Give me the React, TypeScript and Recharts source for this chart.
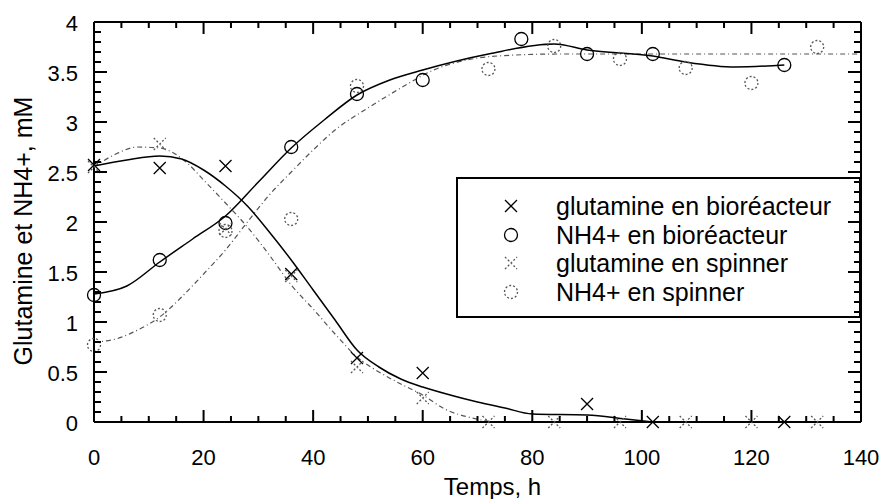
import { ComposedChart, Legend, Line, Scatter, XAxis, YAxis } from "recharts";

const FONT = "'Liberation Sans', Arial, Helvetica, sans-serif";
const INK = "#000";
const SPIN = "#555";

const glnBioHours = [0, 12, 24, 36, 48, 60, 90, 102, 126];
const glnBioConc = [2.57, 2.54, 2.56, 1.48, 0.64, 0.49, 0.18, 0, 0];

const nhBioHours = [0, 12, 24, 36, 48, 60, 78, 90, 102, 126];
const nhBioConc = [1.27, 1.62, 1.99, 2.75, 3.28, 3.42, 3.83, 3.68, 3.68, 3.57];

const glnSpinHours = [0, 12, 24, 36, 48, 60, 72, 84, 96, 108, 120, 132];
const glnSpinConc = [2.55, 2.78, 1.93, 1.46, 0.55, 0.24, 0, 0, 0, 0, 0, 0];

const nhSpinHours = [0, 12, 24, 36, 48, 72, 84, 96, 108, 120, 132];
const nhSpinConc = [0.77, 1.07, 1.91, 2.03, 3.36, 3.53, 3.76, 3.63, 3.54, 3.39, 3.75];

// fitted curves, sampled off the figure
const glnBioFitHours = [0, 6, 12, 16, 20, 24, 28, 32, 36, 40, 44, 48, 52, 56, 60, 65, 70, 75, 80, 90, 97, 102];
const glnBioFitConc = [2.56, 2.62, 2.66, 2.63, 2.52, 2.36, 2.16, 1.9, 1.62, 1.32, 1.02, 0.72, 0.55, 0.43, 0.35, 0.27, 0.2, 0.14, 0.08, 0.07, 0.03, 0];

const nhBioFitHours = [0, 6, 12, 18, 24, 30, 36, 42, 48, 54, 60, 72, 84, 90, 102, 108, 117, 126];
const nhBioFitConc = [1.28, 1.36, 1.6, 1.83, 2.06, 2.4, 2.74, 3.02, 3.27, 3.42, 3.52, 3.68, 3.78, 3.72, 3.66, 3.6, 3.55, 3.57];

const glnSpinFitHours = [0, 4, 8, 12, 17, 20, 24, 28, 32, 36, 40, 44, 48, 52, 56, 60, 64, 69, 73];
const glnSpinFitConc = [2.55, 2.68, 2.75, 2.74, 2.59, 2.42, 2.19, 1.95, 1.67, 1.37, 1.13, 0.88, 0.65, 0.5, 0.38, 0.27, 0.13, 0.04, 0];

const nhSpinFitHours = [0, 4, 8, 12, 16, 20, 24, 28, 32, 36, 40, 44, 50, 56, 62, 69, 77, 85, 100, 120, 140];
const nhSpinFitConc = [0.8, 0.83, 0.92, 1.05, 1.25, 1.48, 1.72, 2.0, 2.27, 2.5, 2.72, 2.92, 3.14, 3.34, 3.52, 3.63, 3.67, 3.68, 3.68, 3.68, 3.68];

const xLabels = [0, 20, 40, 60, 80, 100, 120, 140];
const yLabels = [0, 0.5, 1, 1.5, 2, 2.5, 3, 3.5, 4];
const xTicks = Array.from({ length: 29 }, (_, i) => i * 5);
const yTicks = Array.from({ length: 41 }, (_, i) => i / 10);

const pts = (xs: number[], ys: number[]) => xs.map((x, i) => ({ x, y: ys[i] }));

const MARKERS: Record<string, { kind: "x" | "o"; dashed: boolean }> = {
  "glutamine en bioréacteur": { kind: "x", dashed: false },
  "NH4+ en bioréacteur": { kind: "o", dashed: false },
  "glutamine en spinner": { kind: "x", dashed: true },
  "NH4+ en spinner": { kind: "o", dashed: true },
};
const legendOrder = Object.keys(MARKERS);

function Marker({ cx, cy, kind, dashed }: { cx: number; cy: number; kind: "x" | "o"; dashed: boolean }) {
  const stroke = dashed ? SPIN : INK;
  const dash = dashed ? "2 2" : undefined;
  if (kind === "o") {
    return <circle cx={cx} cy={cy} r={6.5} fill="none" stroke={stroke} strokeWidth={1.3} strokeDasharray={dash} />;
  }
  const s = 6;
  return (
    <path
      d={`M${cx - s},${cy - s}L${cx + s},${cy + s}M${cx - s},${cy + s}L${cx + s},${cy - s}`}
      fill="none"
      stroke={stroke}
      strokeWidth={1.3}
      strokeDasharray={dash}
    />
  );
}

const shapeFor = (name: string) => (p: any) => <Marker cx={p.cx} cy={p.cy} {...MARKERS[name]} />;

// tick marks point into the plot, long on labelled values
function BottomTick(props: any) {
  const x = Number(props.x);
  const y = Number(props.y);
  const v = props.payload.value;
  const len = xLabels.includes(v) ? 12 : 6;
  return (
    <g>
      <rect x={x - 1} y={y - len} width={2} height={len} fill={INK} />
      {xLabels.includes(v) && (
        <text x={x} y={y + 43} textAnchor="middle" fontSize={22} fontFamily={FONT} fill={INK}>
          {v}
        </text>
      )}
    </g>
  );
}

function TopTick(props: any) {
  const x = Number(props.x);
  const y = Number(props.y);
  const len = xLabels.includes(props.payload.value) ? 12 : 6;
  return <rect x={x - 1} y={y} width={2} height={len} fill={INK} />;
}

function LeftTick(props: any) {
  const x = Number(props.x);
  const y = Number(props.y);
  const v = props.payload.value;
  const len = yLabels.includes(v) ? 13 : 7;
  return (
    <g>
      <rect x={x} y={y - 1} width={len} height={2} fill={INK} />
      {yLabels.includes(v) && (
        <text x={x - 16} y={y + 9} textAnchor="end" fontSize={22} fontFamily={FONT} fill={INK}>
          {String(v)}
        </text>
      )}
    </g>
  );
}

function RightTick(props: any) {
  const x = Number(props.x);
  const y = Number(props.y);
  const len = yLabels.includes(props.payload.value) ? 13 : 7;
  return <rect x={x - len} y={y - 1} width={len} height={2} fill={INK} />;
}

function YTitle() {
  return (
    <text x={32} y={231} transform="rotate(-90 32 231)" textAnchor="middle" fontSize={25} fontFamily={FONT} fill={INK}>
      Glutamine et NH4+, mM
    </text>
  );
}

const renderLegend = (props: any) => {
  const items = (props.payload || [])
    .filter((e: any) => MARKERS[e.value])
    .sort((a: any, b: any) => legendOrder.indexOf(a.value) - legendOrder.indexOf(b.value));
  return (
    <div
      style={{
        boxSizing: "border-box",
        height: 141,
        border: `2px solid ${INK}`,
        paddingTop: 13,
        fontFamily: FONT,
        fontSize: 25,
        color: INK,
      }}
    >
      {items.map((e: any) => (
        <div key={e.value} style={{ position: "relative", height: 28.7, lineHeight: "28.7px" }}>
          <svg width={20} height={20} style={{ position: "absolute", left: 43, top: 4 }}>
            <Marker cx={10} cy={10} {...MARKERS[e.value]} />
          </svg>
          <span style={{ position: "absolute", left: 98, top: 0, whiteSpace: "nowrap" }}>{e.value}</span>
        </div>
      ))}
    </div>
  );
};

const axisLine = { stroke: INK, strokeWidth: 2 };

export default function App() {
  return (
    <div style={{ position: "absolute", left: 0, top: 0, width: 884, height: 499 }}>
      <ComposedChart width={884} height={499} margin={{ top: 21, right: 22, bottom: 0, left: 0 }}>
        <XAxis
          xAxisId="b"
          type="number"
          dataKey="x"
          domain={[0, 140]}
          ticks={xTicks}
          interval={0}
          height={77}
          tickSize={0}
          tickMargin={0}
          tickLine={false}
          tick={<BottomTick />}
          axisLine={axisLine}
          label={{ value: "Temps, h", position: "insideBottom", offset: 4, dx: 15, fontSize: 24, fontFamily: FONT, fill: INK }}
        />
        <XAxis
          xAxisId="t"
          orientation="top"
          type="number"
          dataKey="x"
          domain={[0, 140]}
          ticks={xTicks}
          interval={0}
          height={1}
          tickSize={0}
          tickMargin={0}
          tickLine={false}
          tick={<TopTick />}
          axisLine={axisLine}
        />
        <YAxis
          yAxisId="l"
          type="number"
          dataKey="y"
          domain={[0, 4]}
          ticks={yTicks}
          interval={0}
          width={94}
          tickSize={0}
          tickMargin={0}
          tickLine={false}
          tick={<LeftTick />}
          axisLine={axisLine}
          label={<YTitle />}
        />
        <YAxis
          yAxisId="r"
          orientation="right"
          type="number"
          dataKey="y"
          domain={[0, 4]}
          ticks={yTicks}
          interval={0}
          width={1}
          tickSize={0}
          tickMargin={0}
          tickLine={false}
          tick={<RightTick />}
          axisLine={axisLine}
        />

        <Line xAxisId="t" yAxisId="r" data={pts(glnSpinFitHours, glnSpinFitConc)} dataKey="y" type="monotone" stroke={SPIN} strokeWidth={1.2} strokeDasharray="5 3 1 3" dot={false} legendType="none" isAnimationActive={false} />
        <Line xAxisId="t" yAxisId="r" data={pts(nhSpinFitHours, nhSpinFitConc)} dataKey="y" type="monotone" stroke={SPIN} strokeWidth={1.2} strokeDasharray="5 3 1 3" dot={false} legendType="none" isAnimationActive={false} />
        <Line xAxisId="b" yAxisId="l" data={pts(glnBioFitHours, glnBioFitConc)} dataKey="y" type="monotone" stroke={INK} strokeWidth={1.5} dot={false} legendType="none" isAnimationActive={false} />
        <Line xAxisId="b" yAxisId="l" data={pts(nhBioFitHours, nhBioFitConc)} dataKey="y" type="monotone" stroke={INK} strokeWidth={1.5} dot={false} legendType="none" isAnimationActive={false} />

        <Scatter xAxisId="b" yAxisId="l" name="glutamine en bioréacteur" data={pts(glnBioHours, glnBioConc)} shape={shapeFor("glutamine en bioréacteur")} isAnimationActive={false} />
        <Scatter xAxisId="b" yAxisId="l" name="NH4+ en bioréacteur" data={pts(nhBioHours, nhBioConc)} shape={shapeFor("NH4+ en bioréacteur")} isAnimationActive={false} />
        <Scatter xAxisId="b" yAxisId="l" name="glutamine en spinner" data={pts(glnSpinHours, glnSpinConc)} shape={shapeFor("glutamine en spinner")} isAnimationActive={false} />
        <Scatter xAxisId="b" yAxisId="l" name="NH4+ en spinner" data={pts(nhSpinHours, nhSpinConc)} shape={shapeFor("NH4+ en spinner")} isAnimationActive={false} />

        <Legend
          layout="vertical"
          align="center"
          verticalAlign="middle"
          wrapperStyle={{ left: 456, top: 177, width: 405, height: 141 }}
          content={renderLegend}
        />
      </ComposedChart>
    </div>
  );
}
